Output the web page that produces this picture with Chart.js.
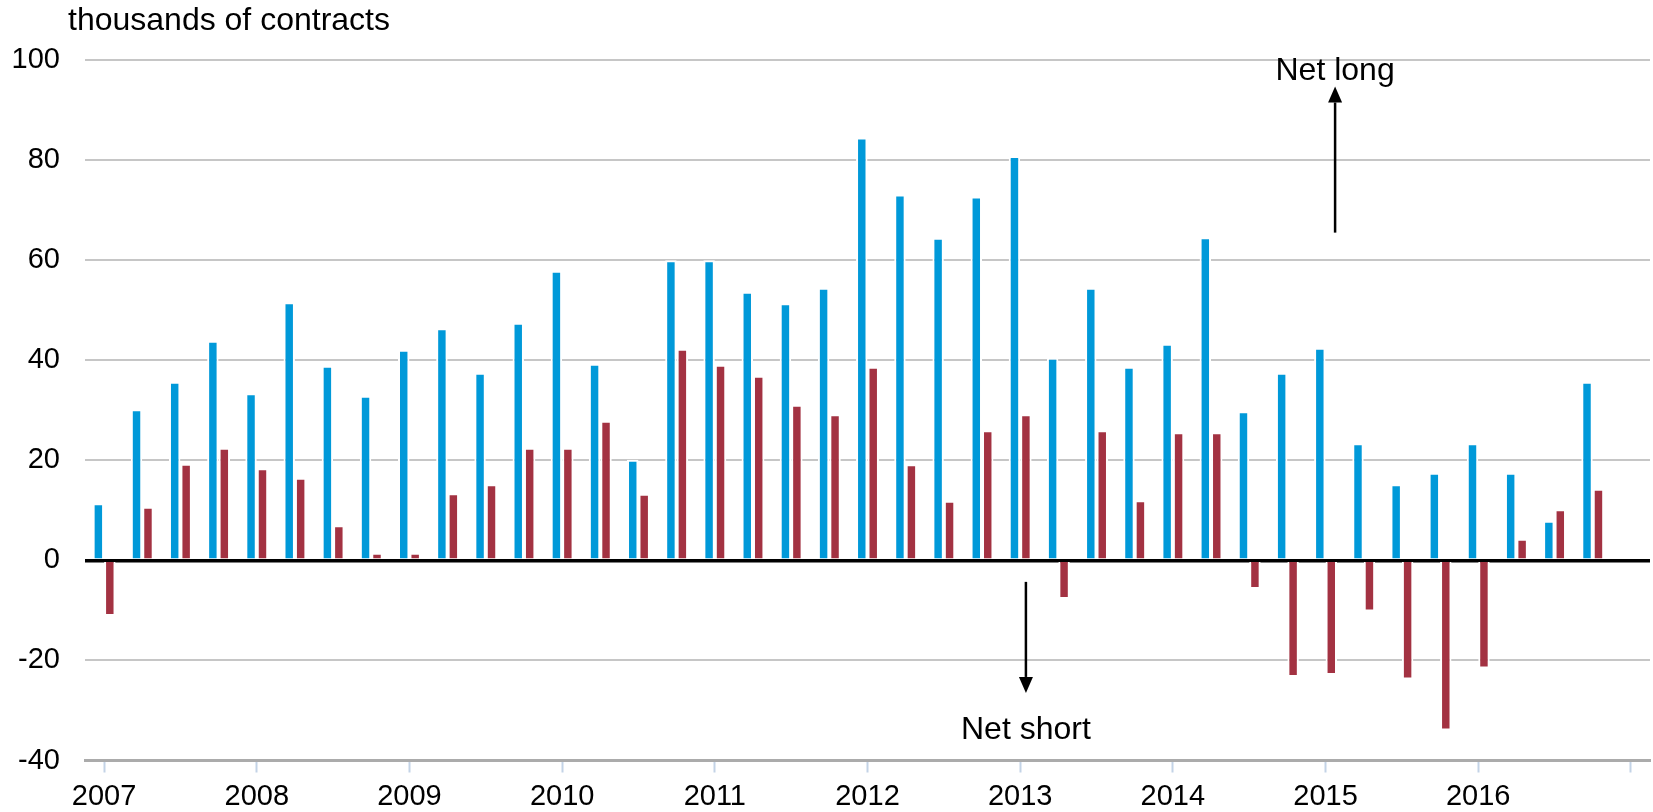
<!DOCTYPE html>
<html>
<head>
<meta charset="utf-8">
<script src="https://cdn.jsdelivr.net/npm/chart.js@4.4.1/dist/chart.umd.min.js"></script>
<style>
    html, body { margin: 0; padding: 0; background: #fff; }
    #wrap { width: 1653px; height: 812px; }
</style>
</head>
<body>
<div id="wrap"><canvas id="positionsChart" width="1653" height="812"></canvas></div>
<script>
// chart values (thousands of contracts, quarterly 2007 Q1 - 2016 Q4)
var years = ['2007', '2008', '2009', '2010', '2011', '2012', '2013', '2014', '2015', '2016', '2017'];
var quarters = ['Q1', 'Q2', 'Q3', 'Q4'];
var blueSeries = [
    11.4, 30.2, 35.7, 43.9,
    33.4, 51.6, 38.9, 32.9,
    42.1, 46.4, 37.5, 47.5,
    57.9, 39.3, 20.1, 60.0,
    60.0, 53.7, 51.4, 54.5,
    84.5, 73.1, 64.5, 72.7,
    80.8, 40.5, 54.5, 38.7,
    43.3, 64.6, 29.8, 37.5,
    42.5, 23.4, 15.2, 17.5,
    23.4, 17.5, 7.9, 35.7
];
var redSeries = [
    -11.1, 10.7, 19.3, 22.5,
    18.4, 16.5, 7.0, 1.5,
    1.5, 13.4, 15.2, 22.5,
    22.5, 27.9, 13.3, 42.3,
    39.1, 36.9, 31.1, 29.2,
    38.7, 19.2, 11.9, 26.0,
    29.2, -7.7, 26.0, 12.0,
    25.6, 25.6, -5.7, -23.3,
    -22.9, -10.2, -23.8, -34.0,
    -21.6, 4.3, 10.2, 14.3
];
var yMin = -40;
var yMax = 100;
var yStep = 20;
var axisTitle = 'thousands of contracts';

// categories run one quarter past the data so the axis ends on a tick
var categories = [];
var xTickLabels = [];
years.forEach(function (year) {
    quarters.forEach(function (q) {
        categories.push(year + ' ' + q);
        xTickLabels.push(q === 'Q1' && year !== '2017' ? year : '');
    });
});
categories = categories.slice(0, blueSeries.length + 1);
xTickLabels = xTickLabels.slice(0, categories.length);

var fontFamily = '"Liberation Sans", Arial, sans-serif';

// start of annotation plugin (axis title, net long / net short arrows)
var notesPlugin = {
    id: 'notes',
    afterDraw: function (chart) {
        var ctx = chart.ctx;
        var xs = chart.scales.x;
        var ys = chart.scales.y;
        ctx.save();
        ctx.fillStyle = '#000';
        ctx.textBaseline = 'middle';

        ctx.font = '32px ' + fontFamily;
        ctx.textAlign = 'left';
        ctx.fillText(axisTitle, 68, 21);

        var notes = [
            { text: 'Net long', at: 32.25, from: 65.5, to: 94.7, label: 97.7 },
            { text: 'Net short', at: 24.15, from: -4.3, to: -26.5, label: -33.9 }
        ];
        ctx.font = '32px ' + fontFamily;
        ctx.textAlign = 'center';
        ctx.strokeStyle = '#000';
        ctx.lineWidth = 2.5;
        notes.forEach(function (n) {
            var px = xs.getPixelForValue(n.at);
            var y0 = ys.getPixelForValue(n.from);
            var y1 = ys.getPixelForValue(n.to);
            var dir = y1 < y0 ? 1 : -1;
            var head = 16;
            ctx.beginPath();
            ctx.moveTo(px, y0);
            ctx.lineTo(px, y1 + dir * head);
            ctx.stroke();
            ctx.beginPath();
            ctx.moveTo(px, y1);
            ctx.lineTo(px - 7, y1 + dir * head);
            ctx.lineTo(px + 7, y1 + dir * head);
            ctx.closePath();
            ctx.fill();
            ctx.fillText(n.text, px, ys.getPixelForValue(n.label));
        });
        ctx.restore();
    }
};
// end of annotation plugin

// start of positions chart
var ctx = document.getElementById('positionsChart');
var positionsChart = new Chart(ctx, {
    type: 'bar',
    data: {
        labels: categories,
        datasets: [{
            label: 'Blue',
            data: blueSeries,
            backgroundColor: '#0099d9',
            borderColor: '#ffffff',
            borderWidth: 2,
            categoryPercentage: 0.6,
            barPercentage: 1.0
        }, {
            label: 'Red',
            data: redSeries,
            backgroundColor: '#a33242',
            borderColor: '#ffffff',
            borderWidth: 2,
            categoryPercentage: 0.6,
            barPercentage: 1.0
        }]
    },
    options: {
        responsive: false,
        animation: false,
        maintainAspectRatio: false,
        devicePixelRatio: 1,
        layout: {
            padding: { top: 60, right: 3, bottom: 0, left: 0 }
        },
        plugins: {
            legend: { display: false },
            tooltip: { enabled: false }
        },
        scales: {
            x: {
                afterFit: function (scale) { scale.height = 51.5; },
                grid: {
                    offset: false,
                    drawOnChartArea: false,
                    tickLength: 12,
                    tickWidth: 2,
                    tickColor: function (c) {
                        return c.index % 4 === 0 ? '#c3d3e6' : 'rgba(0,0,0,0)';
                    }
                },
                border: { display: true, color: '#ababab', width: 3 },
                ticks: {
                    autoSkip: false,
                    maxRotation: 0,
                    padding: 7,
                    color: '#000',
                    font: { family: fontFamily, size: 29 },
                    callback: function (value, index) {
                        return xTickLabels[index];
                    }
                }
            },
            y: {
                min: yMin,
                max: yMax,
                afterFit: function (scale) { scale.width = 85; },
                border: { display: false },
                grid: {
                    drawTicks: false,
                    color: function (c) {
                        return c.tick.value === 0 ? '#000000' : '#c6c6c6';
                    },
                    lineWidth: function (c) {
                        return c.tick.value === 0 ? 3.5 : 2;
                    }
                },
                ticks: {
                    stepSize: yStep,
                    padding: 25,
                    color: '#000',
                    font: { family: fontFamily, size: 29 }
                }
            }
        }
    },
    plugins: [notesPlugin]
});
// end of positions chart
</script>
</body>
</html>
